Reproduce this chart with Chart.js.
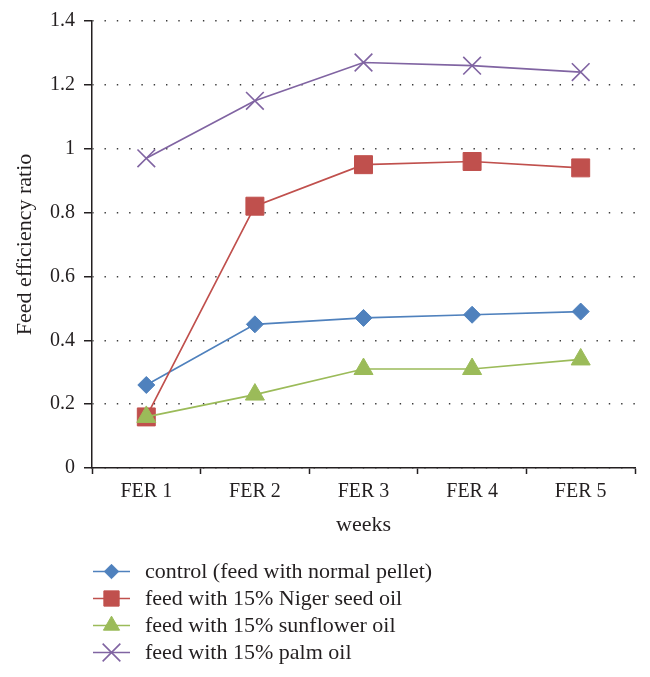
<!DOCTYPE html>
<html>
<head>
<meta charset="utf-8">
<script src="https://cdn.jsdelivr.net/npm/chart.js@4.4.1/dist/chart.umd.min.js"></script>
<style>
  html, body { margin: 0; padding: 0; background: #fff; }
  #wrap { width: 650px; height: 677px; position: relative; }
</style>
</head>
<body>
<div id="wrap"><canvas id="fer"></canvas></div>
<script>
"use strict";

// data
var weeks = ["FER 1", "FER 2", "FER 3", "FER 4", "FER 5"];
var controlFer = [0.26, 0.45, 0.47, 0.48, 0.49];
var nigerFer = [0.16, 0.82, 0.95, 0.96, 0.94];
var sunflowerFer = [0.16, 0.23, 0.31, 0.31, 0.34];
var palmFer = [0.97, 1.15, 1.27, 1.26, 1.24];
var seriesNames = [
  "control (feed with normal pellet)",
  "feed with 15% Niger seed oil",
  "feed with 15% sunflower oil",
  "feed with 15% palm oil"
];
var yTicks = [0, 0.2, 0.4, 0.6, 0.8, 1, 1.2, 1.4];

var INK = "#231f20";
var SERIF = "'Liberation Serif', 'Times New Roman', serif";

Chart.defaults.font.family = SERIF;
Chart.defaults.font.size = 20;
Chart.defaults.color = INK;

function series(label, values, color, style, radius, order) {
  return {
    label: label,
    data: values,
    borderColor: color,
    backgroundColor: color,
    borderWidth: 1.7,
    pointStyle: style,
    pointRadius: radius,
    pointHoverRadius: radius,
    pointBackgroundColor: color,
    pointBorderColor: color,
    pointBorderWidth: style === "crossRot" ? 1.6 : 1,
    tension: 0,
    order: order
  };
}

// legend: line + marker, stacked under the plot
var lineLegend = {
  id: "lineLegend",
  afterDraw: function (chart) {
    var ctx = chart.ctx;
    ctx.save();
    chart.data.datasets.forEach(function (ds, i) {
      var y = 571.5 + i * 27;
      ctx.strokeStyle = ds.borderColor;
      ctx.lineWidth = ds.borderWidth;
      ctx.beginPath();
      ctx.moveTo(93, y);
      ctx.lineTo(130, y);
      ctx.stroke();
      ctx.fillStyle = ds.pointBackgroundColor;
      ctx.strokeStyle = ds.pointBorderColor;
      ctx.lineWidth = ds.pointBorderWidth;
      var r = ds.pointStyle === "crossRot" ? ds.pointRadius : ds.pointRadius * 0.85;
      Chart.helpers.drawPoint(ctx, {
        pointStyle: ds.pointStyle, radius: r, rotation: 0, borderWidth: ds.pointBorderWidth
      }, 111.5, y);
      ctx.fillStyle = INK;
      ctx.font = "22px " + SERIF;
      ctx.textBaseline = "middle";
      ctx.textAlign = "left";
      ctx.fillText(ds.label, 145, y + 1);
    });
    ctx.restore();
  }
};

new Chart(document.getElementById("fer"), {
  type: "line",
  data: {
    labels: weeks,
    datasets: [
      series(seriesNames[0], controlFer, "#4f81bd", "rectRot", 8.5, 3),
      series(seriesNames[1], nigerFer, "#c0504d", "rect", 12.7, 2),
      series(seriesNames[2], sunflowerFer, "#9bbb59", "triangle", 11, 1),
      series(seriesNames[3], palmFer, "#8064a2", "crossRot", 12.5, 0)
    ]
  },
  options: {
    responsive: true,
    maintainAspectRatio: false,
    animation: false,
    events: [],
    layout: { padding: { top: 21, left: 0, right: 15, bottom: 130 } },
    plugins: { legend: { display: false }, tooltip: { enabled: false } },
    scales: {
      x: {
        offset: true,
        grid: {
          offset: true,
          drawOnChartArea: false,
          drawTicks: true,
          tickLength: 6,
          tickColor: INK,
          tickWidth: 1.5
        },
        border: { color: INK, width: 1.5 },
        ticks: { padding: 6, maxRotation: 0, font: { size: 20 } },
        title: { display: true, text: "weeks", font: { size: 22 }, padding: { top: 0, bottom: 9 } },
        afterFit: function (scale) { scale.height = 79; }
      },
      y: {
        min: 0,
        max: 1.4,
        afterBuildTicks: function (scale) {
          scale.ticks = yTicks.map(function (v) { return { value: v }; });
        },
        grid: {
          color: "#3a3a3a",
          lineWidth: 1.5,
          drawTicks: true,
          tickLength: 8,
          tickColor: INK,
          tickWidth: 1.5,
          tickBorderDash: []
        },
        border: { color: INK, width: 1.5, dash: [1.4, 10.9], dashOffset: -12 },
        ticks: {
          padding: 9,
          font: { size: 20 },
          callback: function (v) { return String(Math.round(v * 10) / 10); }
        },
        title: { display: true, text: "Feed efficiency ratio", font: { size: 22 }, padding: { top: 12, bottom: 0 } },
        afterFit: function (scale) { scale.width = 92; }
      }
    }
  },
  plugins: [lineLegend]
});
</script>
</body>
</html>
